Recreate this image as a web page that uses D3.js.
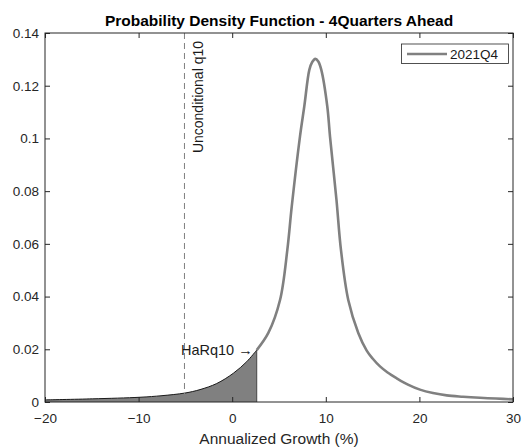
<!DOCTYPE html>
<html><head><meta charset="utf-8">
<script src="https://cdn.jsdelivr.net/npm/d3@7"></script>
<style>body{margin:0;background:#fff}svg{display:block}text{font-family:"Liberation Sans",Arial,sans-serif}</style>
</head><body>
<svg id="c" width="525" height="448"></svg>
<script>
const growth = [-20, -14.9, -9.85, -7.5, -5.04, -3.44, -1.66, 0.12, 1.55, 2.62, 3.86, 5.11, 5.89, 6.36, 7.24, 7.7, 8.24, 8.55, 8.88, 9.2, 9.52, 10.16, 10.45, 11.14, 11.62, 12.4, 13.47, 14.37, 15.0, 15.79, 16.6, 17.58, 18.78, 20.06, 21.45, 22.92, 24.66, 26.47, 28.18, 30];
const density = [0.0008, 0.0012, 0.0018, 0.0024, 0.0034, 0.0047, 0.0070, 0.0109, 0.0153, 0.0197, 0.0262, 0.0387, 0.0577, 0.0741, 0.1007, 0.1121, 0.1260, 0.1290, 0.1302, 0.1292, 0.1260, 0.1121, 0.1007, 0.0767, 0.0577, 0.0387, 0.0262, 0.0195, 0.0165, 0.0135, 0.0112, 0.0090, 0.0066, 0.0047, 0.0034, 0.0025, 0.0020, 0.0016, 0.0013, 0.0010];
const harQ10 = 2.62;
const uncondQ10 = -5.1;
const xTicks = [-20, -10, 0, 10, 20, 30];
const yTicks = [0, 0.02, 0.04, 0.06, 0.08, 0.1, 0.12, 0.14];
const seriesName = "2021Q4";

const svg = d3.select("#c");
const L = 45, R = 513, T = 33, B = 402;
const x = d3.scaleLinear().domain([-20, 30]).range([L, R]);
const y = d3.scaleLinear().domain([0, 0.14]).range([B, T]);
const pts = growth.map((g, i) => ({g, d: density[i]}));
const curve = d3.curveCatmullRom.alpha(0.5);

// shaded area
const shade = pts.filter(p => p.g <= harQ10);
const area = d3.area().x(p => x(p.g)).y0(y(0)).y1(p => y(p.d)).curve(curve);
svg.append("path").attr("d", area(shade)).attr("fill", "#808080").attr("stroke", "none");

// main line
const line = d3.line().x(p => x(p.g)).y(p => y(p.d)).curve(curve);
svg.append("path").attr("d", line(pts.filter(p => p.g >= harQ10))).attr("fill", "none").attr("stroke", "#808080").attr("stroke-width", 2.6);
svg.append("path").attr("d", line(shade)).attr("fill", "none").attr("stroke", "#1a1a1a").attr("stroke-width", 1);
svg.append("line").attr("x1", x(harQ10)).attr("x2", x(harQ10)).attr("y1", y(0)).attr("y2", y(density[growth.indexOf(harQ10)])).attr("stroke", "#444").attr("stroke-width", 1);

// dashed line
svg.append("line").attr("x1", x(uncondQ10)).attr("x2", x(uncondQ10)).attr("y1", T).attr("y2", B)
  .attr("stroke", "#808080").attr("stroke-width", 1).attr("stroke-dasharray", "6,4");
svg.append("text").attr("transform", `translate(${x(uncondQ10) + 19},${T + 8}) rotate(-90)`)
  .attr("text-anchor", "end").attr("font-size", 14).attr("fill", "#1a1a1a").text("Unconditional q10");
svg.append("text").attr("x", x(harQ10) - 4).attr("y", y(density[growth.indexOf(harQ10)]) + 5).attr("text-anchor", "end")
  .attr("font-size", 14.5).attr("fill", "#1a1a1a").text("HaRq10 \u2192");

// axes box
svg.append("rect").attr("x", L).attr("y", T).attr("width", R - L).attr("height", B - T).attr("fill", "none").attr("stroke", "#262626").attr("stroke-width", 1);
const xa = svg.append("g").attr("transform", `translate(0,${B})`).call(d3.axisBottom(x).tickValues(xTicks).tickSizeInner(-5).tickSizeOuter(0).tickPadding(11).tickFormat(d3.format("d")));
const xt = svg.append("g").attr("transform", `translate(0,${T})`).call(d3.axisTop(x).tickValues(xTicks).tickSizeInner(-5).tickSizeOuter(0).tickFormat(""));
const ya = svg.append("g").attr("transform", `translate(${L},0)`).call(d3.axisLeft(y).tickValues(yTicks).tickSizeInner(-5).tickSizeOuter(0).tickPadding(6).tickFormat(d => d === 0 ? "0" : d3.format(".2~f")(d)));
const yr = svg.append("g").attr("transform", `translate(${R},0)`).call(d3.axisRight(y).tickValues(yTicks).tickSizeInner(-5).tickSizeOuter(0).tickFormat(""));
[xa, xt, ya, yr].forEach(g => {
  g.select(".domain").remove();
  g.selectAll("line").attr("stroke", "#262626");
  g.selectAll("text").attr("font-size", 13.5).attr("fill", "#262626").attr("font-family", '"Liberation Sans",Arial,sans-serif');
});

svg.append("text").attr("x", (L + R) / 2).attr("y", 26).attr("text-anchor", "middle").attr("font-weight", "bold").attr("font-size", 15.5).attr("fill", "#000").text("Probability Density Function - 4Quarters Ahead");
svg.append("text").attr("x", (L + R) / 2).attr("y", 444).attr("text-anchor", "middle").attr("font-size", 15.5).attr("fill", "#262626").text("Annualized Growth (%)");

// legend
const lg = svg.append("g");
lg.append("rect").attr("x", 401.5).attr("y", 44).attr("width", 107).attr("height", 19.5).attr("fill", "#fff").attr("stroke", "#262626").attr("stroke-width", 0.8);
lg.append("line").attr("x1", 407).attr("x2", 447).attr("y1", 54).attr("y2", 54).attr("stroke", "#808080").attr("stroke-width", 2.6);
lg.append("text").attr("x", 450).attr("y", 59).attr("font-size", 13.5).attr("fill", "#1a1a1a").text(seriesName);
</script>
</body></html>
